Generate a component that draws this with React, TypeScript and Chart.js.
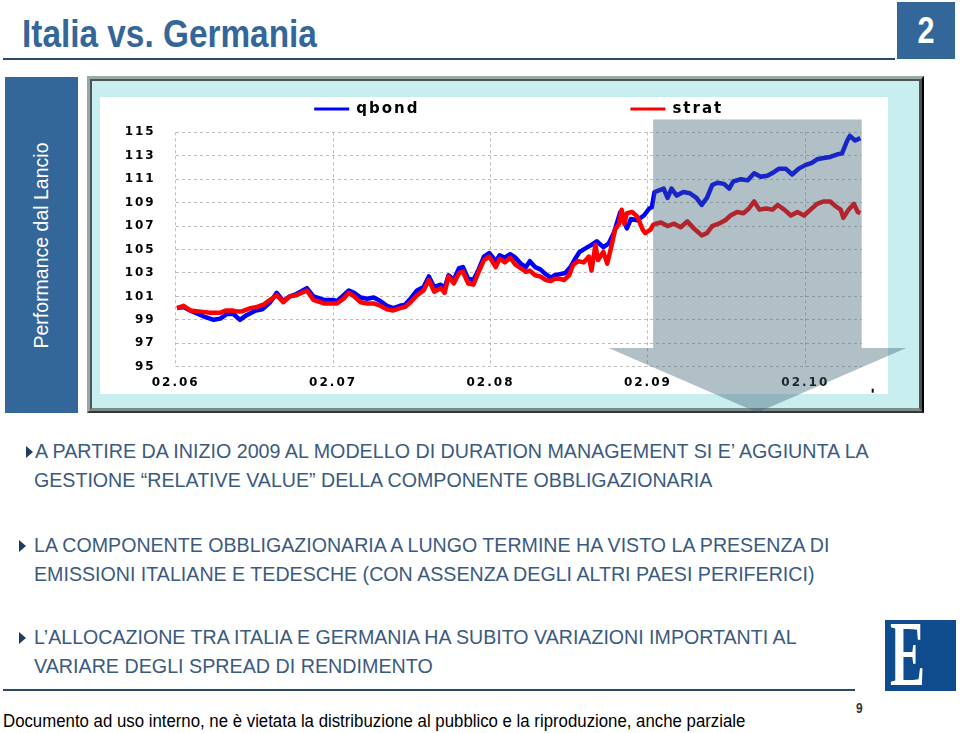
import React, { useEffect, useLayoutEffect, useRef, useState } from 'react';
import { Chart, registerables } from 'chart.js';

Chart.register(...registerables);

// ---------- data ----------
const seriesLabels = ['qbond', 'strat'];
const seriesColors = ['#0000ff', '#ff0000'];
const tickMonths = [0, 12, 24, 36, 48];
const tickLabels = ['02.06', '02.07', '02.08', '02.09', '02.10'];
const yMin = 95;
const yMax = 115;
const yStep = 2;
const xMaxMonth = 52.3;

const qbondMonths = [0.1, 0.6, 1.1, 2.1, 2.9, 3.4, 3.9, 4.4, 4.9, 5.4, 6.1, 6.6, 7.2, 7.7, 8.2, 8.7, 9.2, 10.0, 10.5, 11.3, 12.0, 12.3, 12.8, 13.2, 13.6, 14.1, 14.6, 15.1, 15.6, 16.1, 16.6, 17.1, 17.5, 17.9, 18.4, 18.9, 19.3, 19.7, 20.2, 20.5, 20.8, 21.2, 21.6, 21.9, 22.3, 22.7, 23.1, 23.5, 23.9, 24.4, 24.7, 25.1, 25.5, 25.9, 26.3, 26.7, 27.0, 27.4, 27.8, 28.2, 28.6, 28.9, 29.3, 29.7, 30.1, 30.5, 30.8, 31.4, 31.7, 32.1, 32.6, 33.0, 33.4, 33.9, 34.4, 34.7, 35.2, 35.7, 36.1, 36.3, 36.5, 37.0, 37.2, 37.5, 37.8, 38.2, 38.7, 39.2, 39.7, 40.1, 40.5, 40.9, 41.3, 41.8, 42.2, 42.5, 43.1, 43.6, 44.1, 44.6, 45.1, 45.6, 46.0, 46.5, 47.0, 47.5, 48.0, 48.5, 48.9, 49.4, 49.9, 50.4, 50.8, 51.2, 51.4, 51.8, 52.2];
const qbondValues = [100.0, 100.1, 99.8, 99.3, 99.0, 99.1, 99.5, 99.5, 99.0, 99.4, 99.8, 99.9, 100.5, 101.3, 100.6, 101.0, 101.2, 101.7, 101.0, 100.7, 100.7, 100.6, 101.1, 101.5, 101.3, 100.9, 100.8, 100.9, 100.6, 100.2, 100.0, 100.2, 100.3, 100.8, 101.5, 101.8, 102.7, 101.8, 102.0, 101.7, 102.8, 102.4, 103.4, 103.5, 102.5, 102.4, 103.3, 104.4, 104.7, 104.0, 104.5, 104.3, 104.6, 104.3, 103.8, 103.5, 104.0, 103.5, 103.3, 102.9, 102.6, 102.8, 102.9, 103.0, 103.5, 104.3, 104.8, 105.2, 105.4, 105.7, 105.2, 105.5, 106.4, 108.2, 106.8, 107.6, 107.5, 107.9, 108.5, 108.6, 109.9, 110.1, 110.2, 109.4, 110.2, 109.6, 109.9, 109.8, 109.4, 108.8, 109.4, 110.5, 110.7, 110.6, 110.2, 110.8, 111.0, 110.9, 111.5, 111.2, 111.3, 111.6, 111.9, 111.9, 111.4, 111.9, 112.2, 112.4, 112.7, 112.8, 112.9, 113.1, 113.2, 114.3, 114.7, 114.3, 114.5];

const stratMonths = [0.1, 0.6, 1.1, 1.9, 2.6, 3.4, 3.8, 4.3, 4.7, 5.0, 5.7, 6.2, 6.7, 7.2, 7.7, 8.2, 8.7, 9.2, 10.0, 10.5, 11.3, 12.0, 12.3, 12.8, 13.2, 13.6, 14.1, 14.6, 15.1, 15.6, 16.1, 16.6, 17.1, 17.5, 17.9, 18.4, 18.9, 19.3, 19.7, 20.2, 20.5, 20.8, 21.2, 21.6, 21.9, 22.3, 22.7, 23.1, 23.5, 23.9, 24.4, 24.7, 25.1, 25.5, 25.9, 26.3, 26.7, 27.0, 27.4, 27.8, 28.2, 28.6, 28.9, 29.3, 29.6, 30.0, 30.3, 30.7, 31.1, 31.5, 31.7, 32.0, 32.2, 32.6, 32.9, 33.2, 33.5, 33.8, 34.0, 34.2, 34.4, 34.8, 35.2, 35.6, 35.8, 36.2, 36.4, 36.6, 37.0, 37.5, 38.0, 38.5, 39.0, 39.5, 40.1, 40.5, 40.9, 41.4, 41.9, 42.3, 42.8, 43.3, 43.7, 44.1, 44.5, 45.0, 45.5, 45.9, 46.4, 46.9, 47.4, 47.9, 48.4, 48.9, 49.4, 49.9, 50.3, 50.7, 50.9, 51.3, 51.7, 52.0, 52.2];
const stratValues = [100.0, 100.2, 99.8, 99.7, 99.6, 99.6, 99.8, 99.8, 99.7, 99.7, 100.0, 100.1, 100.3, 100.7, 101.1, 100.5, 101.0, 101.1, 101.5, 100.7, 100.4, 100.4, 100.4, 100.8, 101.3, 101.0, 100.5, 100.4, 100.4, 100.2, 99.9, 99.8, 100.0, 100.1, 100.5, 101.1, 101.5, 102.4, 101.4, 101.7, 101.3, 102.7, 102.1, 103.0, 103.1, 102.1, 102.0, 103.1, 104.1, 104.4, 103.5, 104.2, 103.9, 104.3, 103.7, 103.4, 103.1, 103.2, 102.8, 102.7, 102.4, 102.3, 102.5, 102.5, 102.4, 102.8, 103.7, 104.0, 103.9, 104.4, 103.2, 105.4, 104.1, 104.8, 103.8, 105.2, 106.7, 107.2, 108.4, 107.2, 108.1, 108.2, 107.8, 106.7, 106.4, 106.7, 107.1, 107.2, 107.3, 107.0, 107.2, 106.9, 107.4, 106.8, 106.2, 106.4, 107.0, 107.2, 107.5, 107.9, 108.2, 108.1, 108.5, 109.1, 108.4, 108.5, 108.4, 108.8, 108.4, 107.9, 108.2, 107.9, 108.4, 108.9, 109.1, 109.1, 108.7, 108.4, 107.7, 108.4, 108.9, 108.2, 108.1];

// highlight box + arrow (data units)
const shadeStartMonth = 36.4;
const shadeTopValue = 116.1;
const shadeBottomValue = 96.6;
const arrowLeftMonth = 33.0;
const arrowRightMonth = 55.7;
const arrowTipMonth = 44.35;
const arrowTipValue = 91.1;

const bulletLines = [
  { text: 'A PARTIRE DA INIZIO 2009 AL MODELLO DI DURATION MANAGEMENT SI E\u2019 AGGIUNTA LA', bullet: true },
  { text: 'GESTIONE \u201CRELATIVE VALUE\u201D DELLA COMPONENTE OBBLIGAZIONARIA', bullet: false },
  { text: 'LA COMPONENTE OBBLIGAZIONARIA A LUNGO TERMINE HA VISTO LA PRESENZA DI', bullet: true },
  { text: 'EMISSIONI ITALIANE E TEDESCHE (CON ASSENZA DEGLI ALTRI PAESI PERIFERICI)', bullet: false },
  { text: 'L\u2019ALLOCAZIONE TRA ITALIA E GERMANIA HA SUBITO VARIAZIONI IMPORTANTI AL', bullet: true },
  { text: 'VARIARE DEGLI SPREAD DI RENDIMENTO', bullet: false },
];
const lineLayout = [
  { cy: 452, left: 35, width: 834, bx: 26 },
  { cy: 481, left: 34, width: 678, bx: 0 },
  { cy: 546, left: 34, width: 795, bx: 19 },
  { cy: 575, left: 34, width: 781, bx: 0 },
  { cy: 638, left: 34, width: 763, bx: 19 },
  { cy: 667, left: 34, width: 399, bx: 0 },
];

const SANS = '"Liberation Sans", Arial, Helvetica, sans-serif';
const TICK_FONT = '"DejaVu Sans", "Liberation Sans", sans-serif';

function FitText(props: any) {
  const { text, left, cy, width, size, color, weight = 400, family = SANS } = props;
  const ref = useRef<HTMLSpanElement>(null);
  const [sx, setSx] = useState(1);
  useLayoutEffect(() => {
    const el = ref.current;
    if (!el) return;
    const w = el.offsetWidth;
    if (w > 0) setSx(width / w);
  }, [text, width, size]);
  return (
    <span
      ref={ref}
      style={{
        position: 'absolute',
        left,
        top: cy - 0.49 * size,
        fontSize: size,
        lineHeight: 1,
        whiteSpace: 'nowrap',
        color,
        fontWeight: weight,
        fontFamily: family,
        transform: `scaleX(${sx})`,
        transformOrigin: '0 0',
      }}
    >
      {text}
    </span>
  );
}

const decorPlugin = {
  id: 'decor',
  beforeDraw(chart: any) {
    chart.ctx.letterSpacing = '2px';
  },
  afterDatasetsDraw(chart: any) {
    const ctx = chart.ctx;
    const xs = chart.scales.x;
    const ys = chart.scales.y;
    const ca = chart.chartArea;
    const x0 = xs.getPixelForValue(shadeStartMonth);
    const x1 = ca.right;
    const yT = ys.getPixelForValue(shadeTopValue);
    const yB = ys.getPixelForValue(shadeBottomValue);
    const al = xs.getPixelForValue(arrowLeftMonth);
    const ar = xs.getPixelForValue(arrowRightMonth);
    const tx = xs.getPixelForValue(arrowTipMonth);
    const ty = ys.getPixelForValue(arrowTipValue);
    ctx.save();
    ctx.beginPath();
    ctx.moveTo(x0, yT);
    ctx.lineTo(x1, yT);
    ctx.lineTo(x1, yB);
    ctx.lineTo(ar, yB);
    ctx.lineTo(tx, ty);
    ctx.lineTo(al, yB);
    ctx.lineTo(x0, yB);
    ctx.closePath();
    ctx.fillStyle = 'rgba(60,96,114,0.40)';
    ctx.fill();
    // small stray tick at the bottom right
    ctx.fillStyle = '#111';
    ctx.fillRect(ca.right + 10, ca.bottom + 22, 2, 4);
    ctx.restore();
  },
  afterDraw(chart: any) {
    const ctx = chart.ctx;
    const ca = chart.chartArea;
    ctx.save();
    ctx.font = `bold 15px ${TICK_FONT}`;
    ctx.letterSpacing = '2px';
    const lineLen = 35;
    const gap = 7;
    const itemGap = 211;
    const items = chart.data.datasets.map((ds: any) => ({
      text: ds.label,
      color: ds.borderColor,
      w: lineLen + gap + ctx.measureText(ds.label).width,
    }));
    const total = items.reduce((a: number, b: any) => a + b.w, 0) + itemGap * (items.length - 1);
    let x = (ca.left + ca.right) / 2 - total / 2;
    const y = ca.top - 23.3;
    items.forEach((it: any) => {
      ctx.strokeStyle = it.color;
      ctx.lineWidth = 3;
      ctx.beginPath();
      ctx.moveTo(x, y);
      ctx.lineTo(x + lineLen, y);
      ctx.stroke();
      ctx.fillStyle = '#000';
      ctx.textAlign = 'left';
      ctx.textBaseline = 'middle';
      ctx.fillText(it.text, x + lineLen + gap, y);
      x += it.w + itemGap;
    });
    ctx.restore();
  },
};

function PerfChart() {
  const ref = useRef<HTMLCanvasElement>(null);
  useEffect(() => {
    if (!ref.current) return;
    const tickFont = { family: TICK_FONT, size: 12, weight: 'bold' as const };
    const chart = new Chart(ref.current, {
      type: 'line',
      data: {
        datasets: [
          {
            label: seriesLabels[0],
            data: qbondMonths.map((m, i) => ({ x: m, y: qbondValues[i] })),
            borderColor: seriesColors[0],
            borderWidth: 4.5,
            pointRadius: 0,
            tension: 0,
            borderJoinStyle: 'round',
            order: 1,
          },
          {
            label: seriesLabels[1],
            data: stratMonths.map((m, i) => ({ x: m, y: stratValues[i] })),
            borderColor: seriesColors[1],
            borderWidth: 4.5,
            pointRadius: 0,
            tension: 0,
            borderJoinStyle: 'round',
            order: 0,
          },
        ],
      },
      options: {
        responsive: false,
        animation: false,
        events: [],
        layout: { padding: { left: 28.7, right: 62.3, top: 56.3, bottom: 16.3 } },
        plugins: { legend: { display: false }, tooltip: { enabled: false }, title: { display: false } },
        scales: {
          x: {
            type: 'linear',
            min: 0,
            max: xMaxMonth,
            afterBuildTicks: (s: any) => {
              s.ticks = tickMonths.map((v) => ({ value: v }));
            },
            afterFit: (s: any) => {
              s.height = 30;
            },
            ticks: {
              autoSkip: false,
              maxRotation: 0,
              padding: 9,
              color: '#000',
              font: tickFont,
              callback: (_v: any, i: number) => tickLabels[i],
            },
            grid: { color: '#bdbdbd', lineWidth: 1, drawTicks: false },
            border: { display: false, dash: [3, 3] },
          },
          y: {
            min: yMin,
            max: yMax,
            afterFit: (s: any) => {
              s.width = 60;
            },
            ticks: { stepSize: yStep, padding: 20, color: '#000', font: tickFont },
            grid: { color: '#bdbdbd', lineWidth: 1, drawTicks: false },
            border: { display: false, dash: [3, 3] },
          },
        },
      } as any,
      plugins: [decorPlugin],
    });
    return () => chart.destroy();
  }, []);
  return (
    <canvas
      ref={ref}
      width={837}
      height={337}
      style={{ position: 'absolute', left: 87, top: 76, width: 837, height: 337 }}
    />
  );
}

export default function App() {
  const blue = '#336699';
  return (
    <div
      style={{
        position: 'absolute',
        left: 0,
        top: 0,
        width: 960,
        height: 733,
        background: '#fff',
        overflow: 'hidden',
        fontFamily: SANS,
      }}
    >
      {/* title */}
      <FitText text="Italia vs. Germania" left={22} cy={33.5} width={295} size={38} color={blue} weight={700} />
      <div style={{ position: 'absolute', left: 3, top: 58, width: 892, height: 2, background: '#2b4a6b' }} />
      <div
        style={{
          position: 'absolute',
          left: 897,
          top: 2,
          width: 58,
          height: 57,
          background: blue,
          display: 'flex',
          alignItems: 'center',
          justifyContent: 'center',
        }}
      >
        <span style={{ color: '#fff', fontWeight: 700, fontSize: 36, lineHeight: 1, transform: 'scaleX(0.85)' }}>2</span>
      </div>

      {/* side label */}
      <div
        style={{
          position: 'absolute',
          left: 5,
          top: 77,
          width: 73,
          height: 336,
          background: blue,
          display: 'flex',
          alignItems: 'center',
          justifyContent: 'center',
        }}
      >
        <span style={{ transform: 'rotate(-90deg)', whiteSpace: 'nowrap', color: '#fff', fontSize: 19.5 }}>
          Performance dal Lancio
        </span>
      </div>

      {/* chart frame */}
      <div
        style={{
          position: 'absolute',
          left: 87,
          top: 76,
          width: 837,
          height: 337,
          boxSizing: 'border-box',
          background: '#c8eef0',
          borderStyle: 'ridge',
          borderWidth: 5,
          borderColor: '#9aa8a8 #4a5252 #7e8a8a #9aa8a8',
        }}
      />
      <div style={{ position: 'absolute', left: 100, top: 97, width: 788, height: 297, background: '#fff' }} />
      <PerfChart />

      {/* bullet text */}
      {bulletLines.map((l, i) => (
        <React.Fragment key={i}>
          {l.bullet && (
            <div
              style={{
                position: 'absolute',
                left: lineLayout[i].bx,
                top: lineLayout[i].cy - 6,
                width: 0,
                height: 0,
                borderTop: '6px solid transparent',
                borderBottom: '6px solid transparent',
                borderLeft: '7px solid #1f3c64',
              }}
            />
          )}
          <FitText
            text={l.text}
            left={lineLayout[i].left}
            cy={lineLayout[i].cy}
            width={lineLayout[i].width}
            size={19.5}
            color="#3b5a80"
          />
        </React.Fragment>
      ))}

      {/* footer */}
      <div style={{ position: 'absolute', left: 3, top: 689, width: 852, height: 2, background: '#2b4a6b' }} />
      <span
        style={{
          position: 'absolute',
          left: 856,
          top: 701,
          fontSize: 14,
          lineHeight: 1,
          color: '#333',
          fontWeight: 700,
          transform: 'scaleX(0.85)',
          transformOrigin: '0 0',
        }}
      >
        9
      </span>
      <FitText
        text="Documento ad uso interno, ne è vietata la distribuzione al pubblico e la riproduzione, anche parziale"
        left={3}
        cy={721.5}
        width={742}
        size={17.5}
        color="#000"
      />

      {/* logo */}
      <div
        style={{
          position: 'absolute',
          left: 885,
          top: 620,
          width: 71,
          height: 71,
          background: '#0e4c8e',
          overflow: 'hidden',
        }}
      >
        <span
          style={{
            position: 'absolute',
            left: 5,
            top: -14,
            fontFamily: '"Liberation Serif", "Times New Roman", serif',
            fontWeight: 700,
            fontSize: 94,
            lineHeight: 1,
            color: '#fff',
            transform: 'scaleX(0.56)',
            transformOrigin: '0 0',
          }}
        >
          E
        </span>
      </div>
    </div>
  );
}
